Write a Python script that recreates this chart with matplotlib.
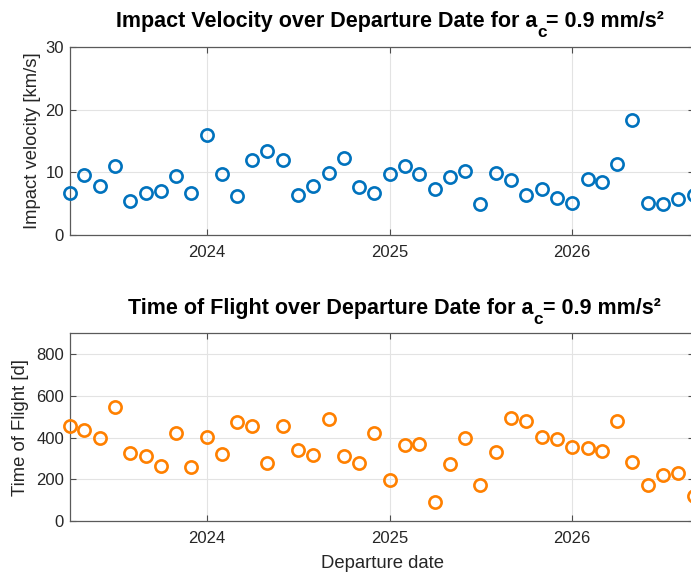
import numpy as np
import pandas as pd
import matplotlib
matplotlib.use('Agg')
import matplotlib.pyplot as plt

plt.rcParams['font.family'] = ['Liberation Sans', 'DejaVu Sans']

# departure dates (monthly, 2023-04 .. 2026-09)
dep_dates = pd.date_range('2023-04-01', '2026-09-01', freq='MS')

# impact velocity [km/s]
v_imp = [6.8, 9.6, 7.8, 11.1, 5.5, 6.8, 7.1, 9.4, 6.7,
         16.0, 9.7, 6.3, 12.0, 13.4, 12.0, 6.4, 7.9, 9.9, 12.3, 7.7, 6.8,
         9.7, 11.1, 9.7, 7.4, 9.3, 10.3, 4.9, 9.9, 8.8, 6.4, 7.4, 5.9,
         5.1, 9.0, 8.4, 11.3, 18.4, 5.2, 5.0, 5.7, 6.4]

# time of flight [d]
tof = [456, 437, 396, 549, 327, 311, 262, 423, 258,
       403, 322, 477, 455, 278, 456, 340, 316, 490, 310, 278, 420,
       198, 364, 368, 91, 274, 399, 171, 330, 496, 478, 402, 392,
       354, 351, 336, 480, 282, 172, 220, 228, 121]

year_ticks = pd.to_datetime(['2024-01-01', '2025-01-01', '2026-01-01'])
year_labels = ['2024', '2025', '2026']

blue = '#0072BD'
orange = '#FF8000'
W, H = 691, 577


def style_axes(ax, ylim, yticks):
    ax.set_xlim(dep_dates[0], dep_dates[-1])
    ax.set_ylim(ylim)
    ax.set_yticks(yticks)
    ax.set_xticks(year_ticks)
    ax.set_xticklabels(year_labels)
    ax.grid(True, color='#e3e3e3', linewidth=0.8)
    ax.set_axisbelow(True)
    ax.tick_params(direction='in', top=True, right=True, length=4,
                   width=0.8, color='#4d4d4d', labelsize=12,
                   labelcolor='#262626')
    ax.tick_params(axis='x', pad=7)
    ax.tick_params(axis='y', pad=4)
    for s in ax.spines.values():
        s.set_color('#5a5a5a')
        s.set_linewidth(0.9)


def sub_title(fig, xc, yb, head, sub, tail, fs=15.5):
    # a_c の添字を少し下げて描く (MATLAB風)
    r = fig.canvas.get_renderer()
    kw = dict(fontsize=fs, fontweight='bold', va='baseline', ha='left')
    t1 = fig.text(0, yb, head, **kw)
    t2 = fig.text(0, yb, sub, fontsize=fs * 0.8, fontweight='bold',
                  va='baseline', ha='left')
    t3 = fig.text(0, yb, tail, **kw)
    w1 = t1.get_window_extent(r).width
    w2 = t2.get_window_extent(r).width
    w3 = t3.get_window_extent(r).width
    x = xc * W - (w1 + w2 + w3) / 2
    t1.set_x(x / W)
    t2.set_x((x + w1) / W)
    t2.set_y(yb - 10.0 / H)
    t3.set_x((x + w1 + w2) / W)


fig = plt.figure(figsize=(W / 100, H / 100), dpi=100)

x0 = 69.5 / W
wd = 624.0 / W
ax1 = fig.add_axes((x0, 1 - 235.3 / H, wd, 188.6 / H))
ax2 = fig.add_axes((x0, 1 - 521.0 / H, wd, 187.7 / H))

# 上段: 衝突速度
ax1.plot(dep_dates, v_imp, 'o', mfc='none', mec=blue, ms=8.8, mew=1.9,
         clip_on=False, zorder=3)
style_axes(ax1, (0, 30), [0, 10, 20, 30])

# 下段: 飛行時間
ax2.plot(dep_dates, tof, 'o', mfc='none', mec=orange, ms=8.8, mew=1.9,
         clip_on=False, zorder=3)
style_axes(ax2, (0, 900), [0, 200, 400, 600, 800])

# タイトル
sub_title(fig, 390 / W, 1 - 27 / H,
          'Impact Velocity over Departure Date for a', 'c', '= 0.9 mm/s²')
sub_title(fig, 394 / W, 1 - 313.6 / H,
          'Time of Flight over Departure Date for a', 'c', '= 0.9 mm/s²')

# 軸ラベル
fig.text(33 / W, 1 - 141 / H, 'Impact velocity [km/s]', rotation=90,
         ha='center', va='center', fontsize=13.3, color='#262626')
fig.text(20.5 / W, 1 - 427 / H, 'Time of Flight [d]', rotation=90,
         ha='center', va='center', fontsize=13.3, color='#262626')
fig.text(382.5 / W, 1 - 564 / H, 'Departure date',
         ha='center', va='center', fontsize=13.3, color='#262626')

plt.savefig('out.png', dpi=100)
plt.close()
